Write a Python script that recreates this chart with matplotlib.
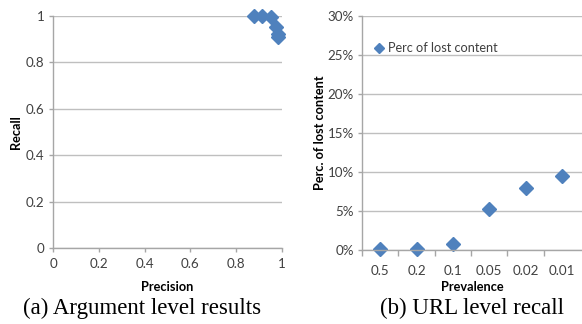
import matplotlib
matplotlib.use("Agg")
import matplotlib.pyplot as plt
from matplotlib.ticker import FuncFormatter, FixedLocator

# Argument level: precision / recall pairs
precision = [0.878, 0.913, 0.952, 0.974, 0.982, 0.982]
recall = [1.0, 1.0, 0.995, 0.952, 0.922, 0.909]

# URL level: share of lost content per prevalence setting
prevalence = ["0.5", "0.2", "0.1", "0.05", "0.02", "0.01"]
lost_content = [0.001, 0.001, 0.008, 0.053, 0.080, 0.095]

blue = "#4F81BD"
grid_col = "#BFBFBF"
spine_col = "#A6A6A6"
plt.rcParams["font.family"] = ["Lato", "DejaVu Sans"]

fig = plt.figure(figsize=(5.82, 3.24), dpi=100)

def style(ax):
    for s in ("top", "right"):
        ax.spines[s].set_visible(False)
    for s in ("left", "bottom"):
        ax.spines[s].set_color(spine_col)
        ax.spines[s].set_linewidth(1.0)
    ax.yaxis.grid(True, color=grid_col, linewidth=1.0)
    ax.set_axisbelow(True)
    ax.tick_params(axis="both", colors=spine_col, labelcolor="#404040",
                   labelsize=9.6, length=3, width=1.0, pad=3)

# (a) precision vs recall
ax1 = fig.add_axes([53 / 582, 76 / 324, 229 / 582, 232 / 324])
ax1.plot(precision, recall, linestyle="none", marker="D", markersize=6.8,
         color=blue, clip_on=False)
ax1.set_xlim(0, 1)
ax1.set_ylim(0, 1)
ax1.set_xticks([0, 0.2, 0.4, 0.6, 0.8, 1])
ax1.set_yticks([0, 0.2, 0.4, 0.6, 0.8, 1])
fmt = FuncFormatter(lambda v, p: "0" if v == 0 else ("1" if v == 1 else f"{v:.1f}"))
ax1.xaxis.set_major_formatter(fmt)
ax1.yaxis.set_major_formatter(fmt)
style(ax1)
ax1.tick_params(axis="x", pad=4)
ax1.set_xlabel("Precision", fontsize=9.2, fontweight="bold", labelpad=8)
ax1.set_ylabel("Recall", fontsize=9.2, fontweight="bold", labelpad=3)

# (b) lost content vs prevalence
ax2 = fig.add_axes([362 / 582, 74 / 324, 220 / 582, 234 / 324])
xs = list(range(len(prevalence)))
ax2.plot(xs, lost_content, linestyle="none", marker="D", markersize=6.8,
         color=blue, label="Perc of lost content", clip_on=False)
ax2.set_xlim(-0.5, len(prevalence) - 0.45)
ax2.set_ylim(0, 0.30)
ax2.set_yticks([0, 0.05, 0.10, 0.15, 0.20, 0.25, 0.30])
ax2.yaxis.set_major_formatter(FuncFormatter(lambda v, p: f"{round(v * 100)}%"))
ax2.set_xticks(xs)
ax2.set_xticklabels(prevalence)
ax2.xaxis.set_minor_locator(FixedLocator([i - 0.5 for i in range(len(prevalence))]))
style(ax2)
ax2.tick_params(axis="x", which="major", length=0, pad=11)
ax2.tick_params(axis="x", which="minor", length=4, width=1.0, color=spine_col)
ax2.set_xlabel("Prevalence", fontsize=9.2, fontweight="bold", labelpad=3)
ax2.set_ylabel("Perc. of lost content", fontsize=9.2, fontweight="bold", labelpad=1)
leg = ax2.legend(loc="upper left", bbox_to_anchor=(0.0, 0.925), frameon=False,
                 fontsize=9.2, handletextpad=0.1, handlelength=1.2,
                 markerscale=0.7, borderaxespad=0.3)
for t in leg.get_texts():
    t.set_color("#404040")

# Captions
fig.text(142 / 582, 1 - 308 / 324, "(a) Argument level results",
         ha="center", va="center", fontsize=16.5, family="Liberation Serif")
fig.text(472 / 582, 1 - 308 / 324, "(b) URL level recall",
         ha="center", va="center", fontsize=16.5, family="Liberation Serif")

fig.savefig("out.png", dpi=100)
